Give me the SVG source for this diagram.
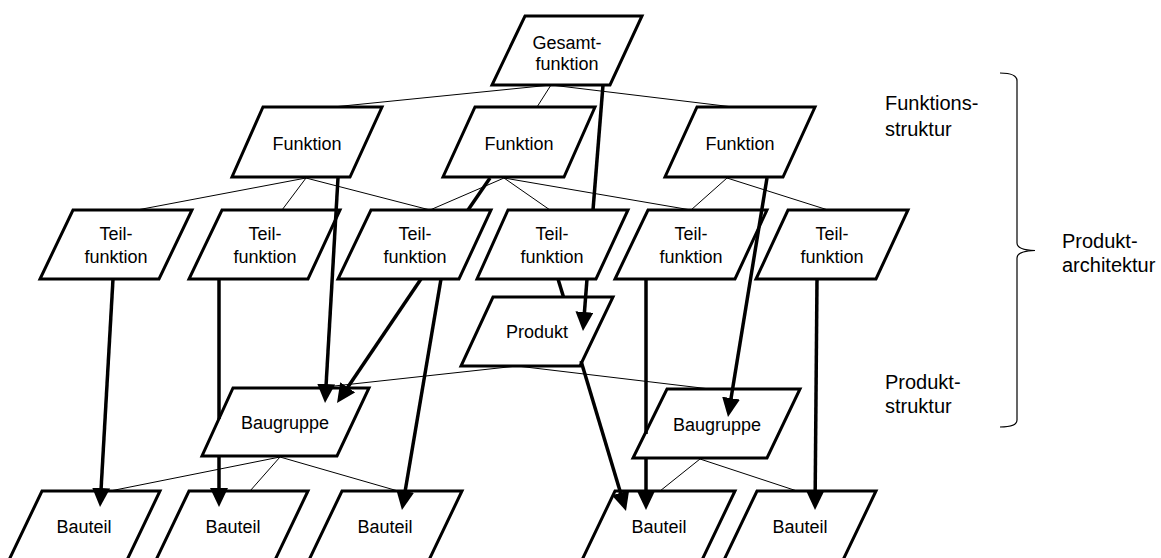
<svg xmlns="http://www.w3.org/2000/svg" width="1161" height="558" viewBox="0 0 1161 558">
  <defs>
    <style>
      .node { fill: #ffffff; stroke: #000000; stroke-width: 3; stroke-linejoin: miter; }
      .lbl { font-family: "Liberation Sans", Arial, sans-serif; font-size: 18px; fill: #000000; text-anchor: middle; }
      .side { font-family: "Liberation Sans", Arial, sans-serif; font-size: 20px; fill: #000000; }
      .link { stroke: #000000; stroke-width: 1; fill: none; }
      .flow { stroke: #000000; stroke-width: 3.5; fill: none; }
      .arrow { marker-end: url(#head); }
      .brace { stroke: #000000; stroke-width: 1.2; fill: none; }
    </style>
    <marker id="head" viewBox="0 0 19 18" refX="11" refY="9" markerWidth="19" markerHeight="18" markerUnits="userSpaceOnUse" orient="auto">
      <path d="M0,0 L19,9 L0,18 Z" fill="#000000"/>
    </marker>
  </defs>

  <rect width="1161" height="558" fill="#ffffff"/>

  <!-- function structure -->
  <g id="gesamtfunktion">
    <polygon class="node" points="525,16 642,16 610,85 492,85"/>
    <text class="lbl" x="567" y="49">Gesamt-</text>
    <text class="lbl" x="567" y="70">funktion</text>
  </g>
  <g id="funktion-1">
    <polygon class="node" points="263,107 382,107 350,177 232,177"/>
    <text class="lbl" x="307" y="150">Funktion</text>
  </g>
  <g id="funktion-2">
    <polygon class="node" points="475,107 595,107 564,177 443,177"/>
    <text class="lbl" x="519" y="150">Funktion</text>
  </g>
  <g id="funktion-3">
    <polygon class="node" points="697,107 815,107 783,177 665,177"/>
    <text class="lbl" x="740" y="150">Funktion</text>
  </g>

  <g id="teilfunktion-1">
    <polygon class="node" points="73,210 192,210 159,279 40,279"/>
    <text class="lbl" x="116" y="240">Teil-</text>
    <text class="lbl" x="116" y="263">funktion</text>
  </g>
  <g id="teilfunktion-2">
    <polygon class="node" points="222,210 340,210 308,279 189,279"/>
    <text class="lbl" x="265" y="240">Teil-</text>
    <text class="lbl" x="265" y="263">funktion</text>
  </g>
  <g id="teilfunktion-3">
    <polygon class="node" points="371,210 491,210 459,279 338,279"/>
    <text class="lbl" x="415" y="240">Teil-</text>
    <text class="lbl" x="415" y="263">funktion</text>
  </g>
  <g id="teilfunktion-4">
    <polygon class="node" points="508,210 628,210 596,279 477,279"/>
    <text class="lbl" x="552" y="240">Teil-</text>
    <text class="lbl" x="552" y="263">funktion</text>
  </g>
  <g id="teilfunktion-5">
    <polygon class="node" points="648,210 767,210 735,279 615,279"/>
    <text class="lbl" x="691" y="240">Teil-</text>
    <text class="lbl" x="691" y="263">funktion</text>
  </g>
  <g id="teilfunktion-6">
    <polygon class="node" points="788,210 908,210 876,279 756,279"/>
    <text class="lbl" x="832" y="240">Teil-</text>
    <text class="lbl" x="832" y="263">funktion</text>
  </g>

  <!-- product structure -->
  <g id="produkt">
    <polygon class="node" points="493,297 613,297 580,366 461,366"/>
    <text class="lbl" x="537" y="338">Produkt</text>
  </g>
  <g id="baugruppe-1">
    <polygon class="node" points="233,388 369,388 337,456 202,456"/>
    <text class="lbl" x="285" y="429">Baugruppe</text>
  </g>
  <g id="baugruppe-2">
    <polygon class="node" points="667,389 800,389 767,458 633,458"/>
    <text class="lbl" x="717" y="431">Baugruppe</text>
  </g>

  <g id="bauteil-1">
    <polygon class="node" points="42,491 160,491 127,560 9,560"/>
    <text class="lbl" x="84" y="533">Bauteil</text>
  </g>
  <g id="bauteil-2">
    <polygon class="node" points="189,491 308,491 275,560 156,560"/>
    <text class="lbl" x="233" y="533">Bauteil</text>
  </g>
  <g id="bauteil-3">
    <polygon class="node" points="342,491 462,491 429,560 309,560"/>
    <text class="lbl" x="385" y="533">Bauteil</text>
  </g>
  <g id="bauteil-4">
    <polygon class="node" points="615,491 735,491 702,560 582,560"/>
    <text class="lbl" x="659" y="533">Bauteil</text>
  </g>
  <g id="bauteil-5">
    <polygon class="node" points="757,491 876,491 843,560 724,560"/>
    <text class="lbl" x="800" y="533">Bauteil</text>
  </g>

  <g id="connectors">
    <!-- hierarchy links -->
    <line class="link" x1="551" y1="85" x2="333" y2="107"/>
    <line class="link" x1="551" y1="85" x2="537" y2="107"/>
    <line class="link" x1="551" y1="85" x2="733" y2="107"/>
    <line class="link" x1="306" y1="178" x2="137" y2="210"/>
    <line class="link" x1="306" y1="178" x2="282" y2="210"/>
    <line class="link" x1="306" y1="178" x2="430" y2="210"/>
    <line class="link" x1="504" y1="178" x2="430" y2="210"/>
    <line class="link" x1="504" y1="178" x2="550" y2="210"/>
    <line class="link" x1="504" y1="178" x2="691" y2="210"/>
    <line class="link" x1="727" y1="178" x2="691" y2="210"/>
    <line class="link" x1="727" y1="178" x2="828" y2="210"/>
    <line class="link" x1="517" y1="366" x2="316" y2="388"/>
    <line class="link" x1="517" y1="366" x2="710" y2="389"/>
    <line class="link" x1="280" y1="457" x2="110" y2="491"/>
    <line class="link" x1="280" y1="457" x2="250" y2="491"/>
    <line class="link" x1="280" y1="457" x2="398" y2="491"/>
    <line class="link" x1="700" y1="459" x2="660" y2="491"/>
    <line class="link" x1="700" y1="459" x2="797" y2="491"/>

    <!-- allocation arrows (segments hidden behind boxes are left out) -->
    <line class="flow" x1="603" y1="85" x2="593" y2="210"/>
    <line class="flow arrow" x1="587" y1="279" x2="583.6" y2="323"/>
    <line class="flow arrow" x1="338" y1="178" x2="325.5" y2="395"/>
    <line class="flow" x1="490" y1="178" x2="468" y2="210"/>
    <line class="flow arrow" x1="421" y1="279" x2="341.5" y2="396.4"/>
    <line class="flow arrow" x1="441" y1="279" x2="403.3" y2="502"/>
    <line class="flow arrow" x1="113" y1="279" x2="100.5" y2="499"/>
    <line class="flow" x1="219" y1="279" x2="219" y2="419"/>
    <line class="flow arrow" x1="219" y1="456" x2="219" y2="499"/>
    <line class="flow" x1="558" y1="279" x2="563.5" y2="297"/>
    <line class="flow arrow" x1="581" y1="361" x2="623.7" y2="503.3"/>
    <line class="flow arrow" x1="767" y1="178" x2="729.3" y2="409"/>
    <line class="flow" x1="646" y1="279" x2="646" y2="434"/>
    <line class="flow arrow" x1="646" y1="458" x2="646" y2="502"/>
    <line class="flow arrow" x1="817" y1="279" x2="815.1" y2="502"/>
  </g>

  <!-- level labels and brace -->
  <g id="labels">
    <text class="side" x="885" y="110">Funktions-</text>
    <text class="side" x="885" y="136">struktur</text>
    <text class="side" x="885" y="389">Produkt-</text>
    <text class="side" x="885" y="413">struktur</text>
    <text class="side" x="1062" y="248">Produkt-</text>
    <text class="side" x="1062" y="272">architektur</text>
    <path class="brace" d="M1000,73 Q1017,73 1017,81 L1017,243 Q1017,250 1035,250.5 Q1017,251 1017,258 L1017,420 Q1017,427 1000,427"/>
  </g>
</svg>
